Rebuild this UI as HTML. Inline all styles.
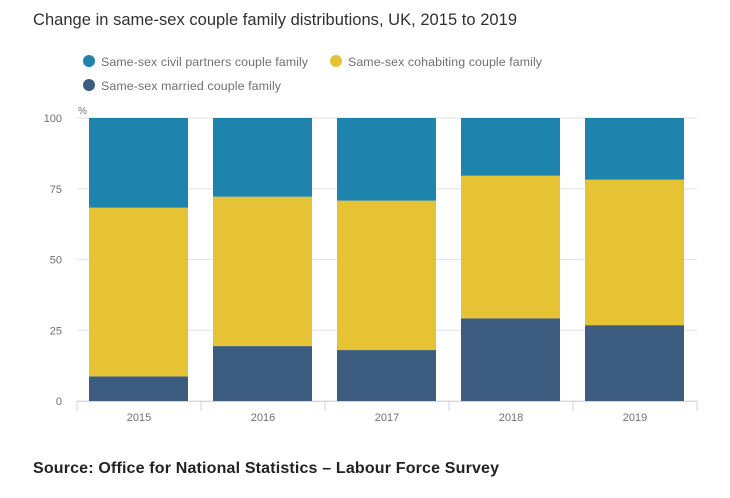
<!DOCTYPE html>
<html><head><meta charset="utf-8"><style>
body{margin:0;background:#fff;width:730px;height:493px;overflow:hidden;font-family:"Liberation Sans",sans-serif}
</style></head><body>
<svg width="730" height="493" font-family="Liberation Sans, sans-serif">
<text x="33" y="25" font-size="16.5" fill="#323132" textLength="484">Change in same-sex couple family distributions, UK, 2015 to 2019</text>
<g>
<circle cx="89" cy="61" r="6" fill="#1f84ad"/>
<text x="101" y="66" font-size="12.4" fill="#707070" textLength="207">Same-sex civil partners couple family</text>
<circle cx="336" cy="61" r="6" fill="#e6c235"/>
<text x="348" y="66" font-size="12.4" fill="#707070" textLength="194">Same-sex cohabiting couple family</text>
<circle cx="89" cy="85" r="6" fill="#3b5c7e"/>
<text x="101" y="90" font-size="12.4" fill="#707070" textLength="180">Same-sex married couple family</text>
</g>
<text x="78" y="114" font-size="10" fill="#707070">%</text>
<g id="grid"></g><g id="bars"></g><g id="axes"></g>
<text x="33" y="473" font-size="16" font-weight="bold" fill="#222" textLength="466">Source: Office for National Statistics – Labour Force Survey</text>
</svg>
<script>
const categories=["2015","2016","2017","2018","2019"];
const married=[8.7,19.4,18.0,29.2,26.8];
const cohabiting=[59.6,52.8,52.8,50.4,51.4];
const civil=[31.7,27.8,29.2,20.4,21.8];
const yTicks=[0,25,50,75,100];
const NS="http://www.w3.org/2000/svg";
const X0=77,PW=620,Y0=401,Y100=118;
const step=PW/categories.length;
const y=v=>Y0-(v/100)*(Y0-Y100);
function mk(tag,attrs,parent,txt){const e=document.createElementNS(NS,tag);for(const k in attrs)e.setAttribute(k,attrs[k]);if(txt!=null)e.textContent=txt;document.getElementById(parent).appendChild(e);return e;}
yTicks.forEach(t=>{
 const l=mk("line",{x1:X0,x2:X0+PW,y1:y(t),y2:y(t),stroke:"#e2e2e2"},"grid");
 
 
 const tx=mk("text",{x:62,y:y(t)+4,"font-size":11,fill:"#707070","text-anchor":"end"},"axes",String(t));
 
 
});
const series=[[married,"#3b5c7e","married"],[cohabiting,"#e6c235","cohabiting"],[civil,"#1f84ad","civil"]];
categories.forEach((c,i)=>{
 let base=0;const bx=X0+i*step+12,bw=step-25;
 series.forEach(([arr,col,nm])=>{
  const r=mk("rect",{x:bx,y:y(base+arr[i]),width:bw,height:y(base)-y(base+arr[i]),fill:col},"bars");
  
  
  base+=arr[i];
 });
 const tx=mk("text",{x:X0+i*step+step/2,y:421,"font-size":11,fill:"#707070","text-anchor":"middle"},"axes",c);
 
 
});
const ax=mk("line",{x1:X0,x2:X0+PW,y1:Y0+0.5,y2:Y0+0.5,stroke:"#ccd6eb"},"axes");


for(let i=0;i<=categories.length;i++){
 const t=mk("line",{x1:X0+i*step,x2:X0+i*step,y1:Y0,y2:Y0+10,stroke:"#ccd6eb"},"axes");
 
 
}
</script>
</body></html>
